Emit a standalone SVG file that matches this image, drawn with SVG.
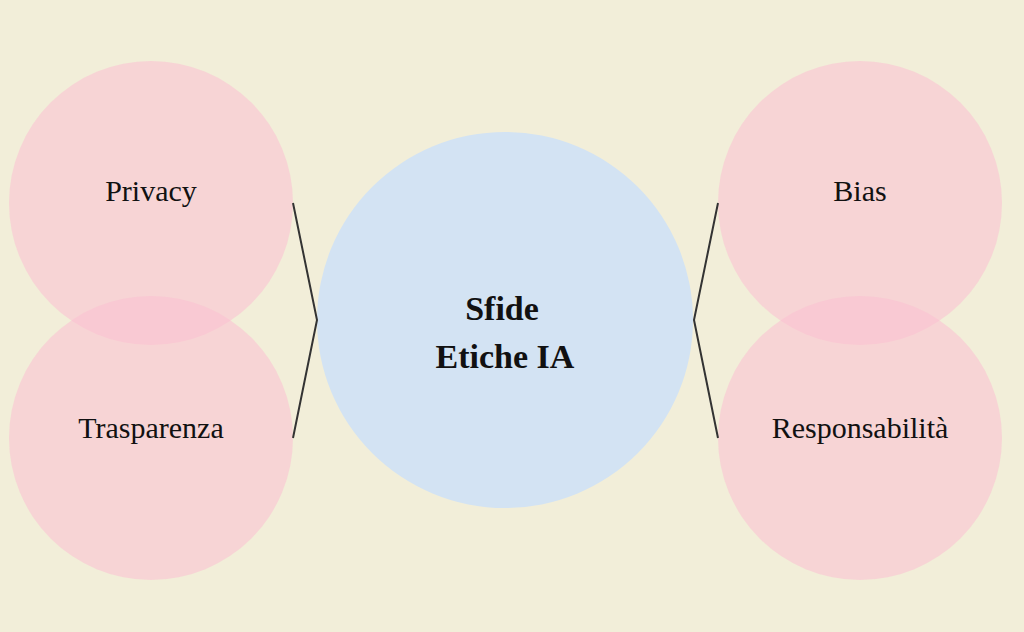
<svg xmlns="http://www.w3.org/2000/svg" width="1024" height="632" viewBox="0 0 1024 632">
<style>
.p{fill:#fcc0d2;fill-opacity:0.55}
.t{font-family:"Liberation Serif",serif;font-size:30px;fill:#111;text-anchor:middle}
.c{font-family:"Liberation Serif",serif;font-size:34px;font-weight:bold;fill:#111;text-anchor:middle}
.l{stroke:#333;stroke-width:2;fill:none}
</style>
<rect width="1024" height="632" fill="#f2eed9"/>
<g id="center"><circle cx="505" cy="320" r="188" fill="#d3e3f3"/><text class="c" x="502" y="320">Sfide</text><text class="c" x="505" y="368">Etiche IA</text></g>
<g id="privacy"><circle class="p" cx="151" cy="203" r="142"/><text class="t" x="151" y="201">Privacy</text></g>
<g id="trasparenza"><circle class="p" cx="151" cy="438" r="142"/><text class="t" x="151" y="438">Trasparenza</text></g>
<g id="bias"><circle class="p" cx="860" cy="203" r="142"/><text class="t" x="860" y="201">Bias</text></g>
<g id="responsabilita"><circle class="p" cx="860" cy="438" r="142"/><text class="t" x="860" y="438">Responsabilità</text></g>
<g id="connectors">
<polyline class="l" points="293,203 317,320 293,438"/>
<polyline class="l" points="718,203 694,320 718,438"/>
</g>
</svg>
